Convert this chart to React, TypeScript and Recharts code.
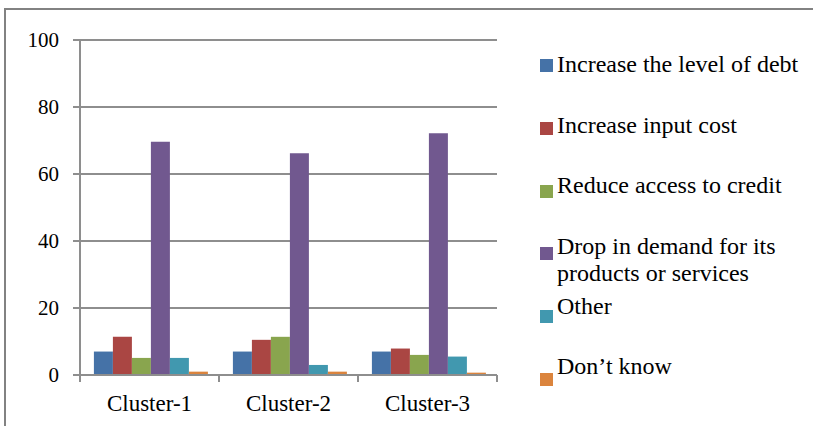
import { BarChart, Bar, XAxis, YAxis, CartesianGrid } from 'recharts';

const clusters = ['Cluster-1', 'Cluster-2', 'Cluster-3'];

const seriesNames = [
  'Increase the level of debt',
  'Increase input cost',
  'Reduce access to credit',
  'Drop in demand for its products or services',
  'Other',
  'Don\u2019t know',
];

const seriesColors = ['#4572A7', '#AA4643', '#89A54E', '#71588F', '#4198AF', '#DB843D'];

const debt = [7, 7, 7];
const inputCost = [11.4, 10.5, 7.9];
const credit = [5.1, 11.4, 6];
const demand = [69.6, 66.2, 72.2];
const other = [5.1, 3, 5.5];
const dontKnow = [1, 1, 0.7];

const yTicks = [0, 20, 40, 60, 80, 100];

const seriesValues = [debt, inputCost, credit, demand, other, dontKnow];

const data = clusters.map((name, i) => {
  const row: Record<string, string | number> = { name };
  seriesNames.forEach((s, j) => {
    row[s] = seriesValues[j][i];
  });
  return row;
});

const FONT = 'Liberation Serif';
const GRAY = '#8e8e8e';
const CHART_W = 813;
const CHART_H = 426;
const MARGIN = { top: 40, right: 316, left: 0, bottom: 21 };
const Y_AXIS_W = 80;
const PLOT_W = CHART_W - MARGIN.right - MARGIN.left - Y_AXIS_W;

// Excel-style ticks: marks sit on the category boundaries, label in the middle
function ClusterTick(props: any) {
  const { x, y, payload, index } = props;
  const half = payload?.offset || PLOT_W / clusters.length / 2;
  return (
    <g>
      <line x1={x - half} x2={x - half} y1={y} y2={y + 7} stroke={GRAY} strokeWidth={2} />
      {index === clusters.length - 1 && (
        <line x1={x + half} x2={x + half} y1={y} y2={y + 7} stroke={GRAY} strokeWidth={2} />
      )}
      <text x={x} y={y + 36} textAnchor="middle" fill="#000" fontSize={23} style={{ fontFamily: FONT }}>
        {payload.value}
      </text>
    </g>
  );
}

function SideLegend() {
  return (
    <div style={{ position: 'absolute', left: 0, top: 0, fontFamily: FONT, fontSize: 24, color: '#000' }}>
      {seriesNames.map((name, i) => (
        <div key={name}>
          <div
            style={{
              position: 'absolute',
              left: 540,
              top: 59 + 62.8 * i,
              width: 13,
              height: 13,
              background: seriesColors[i],
            }}
          />
          <div
            style={{
              position: 'absolute',
              left: 557,
              top: 51.4 + 60.4 * i,
              width: 252,
              lineHeight: '27px',
              whiteSpace: 'normal',
            }}
          >
            {name}
          </div>
        </div>
      ))}
    </div>
  );
}

export default function App() {
  return (
    <div
      style={{
        position: 'absolute',
        left: 0,
        top: 0,
        width: CHART_W,
        height: CHART_H,
        background: '#fff',
        overflow: 'hidden',
        fontFamily: FONT,
      }}
    >
      <div
        style={{
          position: 'absolute',
          left: 4,
          top: 8,
          right: 0,
          bottom: 0,
          borderTop: '2px solid #828282',
          borderLeft: '2px solid #828282',
        }}
      />
      <BarChart width={CHART_W} height={CHART_H} data={data} margin={MARGIN} barGap={0} barCategoryGap="10%" style={{ fontFamily: FONT }}>
        <CartesianGrid vertical={false} stroke={GRAY} strokeWidth={2} />
        <XAxis
          dataKey="name"
          height={30}
          axisLine={{ stroke: GRAY, strokeWidth: 2 }}
          tickLine={false}
          tickSize={0}
          tickMargin={0}
          tick={<ClusterTick />}
          interval={0}
        />
        <YAxis
          width={Y_AXIS_W}
          domain={[0, 100]}
          ticks={yTicks}
          interval={0}
          axisLine={{ stroke: GRAY, strokeWidth: 2 }}
          tickLine={{ stroke: GRAY, strokeWidth: 2 }}
          tickSize={7}
          tickMargin={14}
          tick={{ fill: '#000', fontSize: 21, fontFamily: FONT }}
        />
        {seriesNames.map((s, j) => (
          <Bar key={s} dataKey={s} fill={seriesColors[j]} isAnimationActive={false} />
        ))}
      </BarChart>
      <SideLegend />
    </div>
  );
}
